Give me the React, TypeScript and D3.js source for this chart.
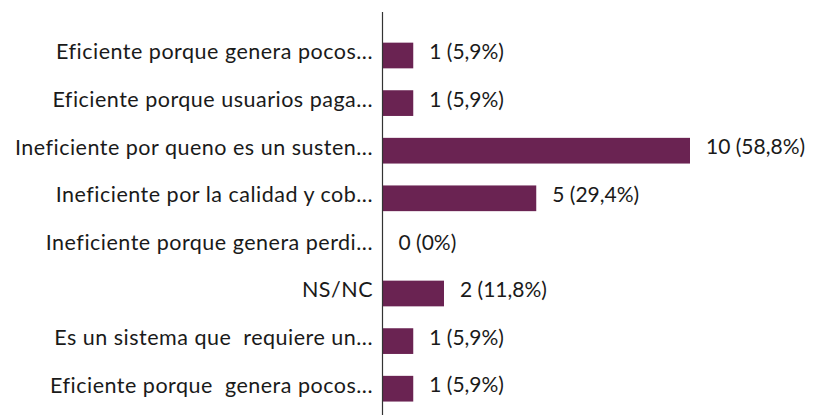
import React from "react";
import * as d3 from "d3";

const categories = [
  "Eficiente porque genera pocos...",
  "Eficiente porque usuarios paga...",
  "Ineficiente por queno es un susten...",
  "Ineficiente por la calidad y cob...",
  "Ineficiente porque genera perdi...",
  "NS/NC",
  "Es un sistema que  requiere un...",
  "Eficiente porque  genera pocos...",
];
const values = [1, 1, 10, 5, 0, 2, 1, 1];
const valueLabels = ["1 (5,9%)", "1 (5,9%)", "10 (58,8%)", "5 (29,4%)", "0 (0%)", "2 (11,8%)", "1 (5,9%)", "1 (5,9%)"];

const W = 814;
const H = 415;
const FONT = "Lato, 'Open Sans', sans-serif";

export default function App() {
  const x = d3.scaleLinear().domain([0, 14]).range([382.5, 813]);
  const y = d3
    .scaleBand<string>()
    .domain(categories)
    .range([31.7, 412.5])
    .paddingInner(0.46)
    .paddingOuter(0.23);
  const bw = y.bandwidth();
  return (
    <svg
      width={W}
      height={H}
      style={{ position: "absolute", left: 0, top: 0, background: "#fff" }}
      fontFamily={FONT}
    >
      {categories.map((c, i) => {
        const yc = (y(c) as number) + bw / 2;
        return (
          <g key={i}>
            <rect
              x={x(0)}
              y={y(c) as number}
              width={x(values[i]) - x(0)}
              height={bw}
              fill="#6a2352"
            />
            <text
              x={373}
              y={yc}
              dy="0.18em"
              textAnchor="end"
              fontSize={21.5}
              letterSpacing={0.5}
              fill="#1a1a1a"
              style={{ whiteSpace: "pre" }}
            >
              {c}
            </text>
            <text
              x={x(values[i]) + 16}
              y={yc}
              dy="0.18em"
              fontSize={21}
              fill="#1a1a1a"
            >
              {valueLabels[i]}
            </text>
          </g>
        );
      })}
      <line x1={382.5} x2={382.5} y1={12} y2={H} stroke="#333" strokeWidth={1.2} />
    </svg>
  );
}
